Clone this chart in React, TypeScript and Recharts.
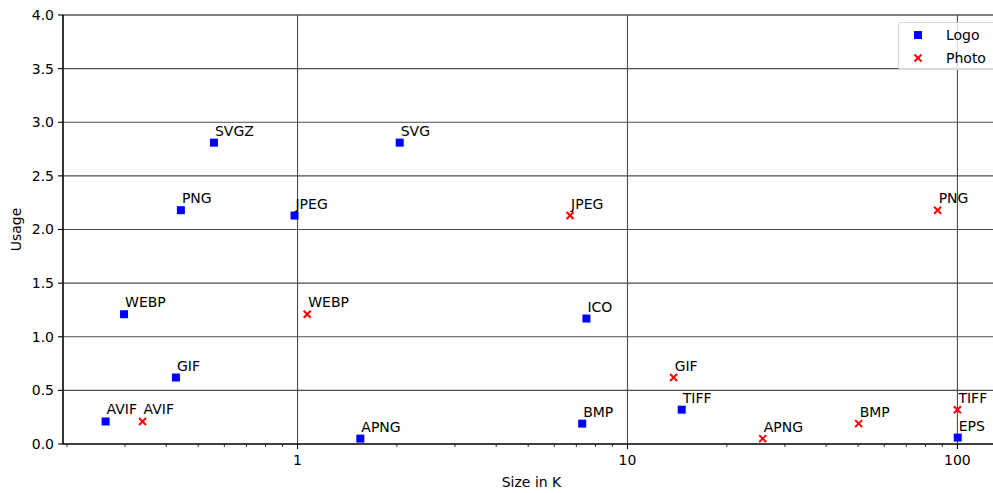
import { ScatterChart, Scatter, XAxis, YAxis, ReferenceLine, ReferenceArea } from "recharts";

// logo formats
const logoNames = ["AVIF", "WEBP", "GIF", "PNG", "SVGZ", "JPEG", "APNG", "SVG", "BMP", "ICO", "TIFF", "EPS"];
const logoSizes = [0.262, 0.298, 0.428, 0.443, 0.558, 0.979, 1.55, 2.04, 7.29, 7.51, 14.6, 100.2];
const logoUsage = [0.21, 1.21, 0.62, 2.18, 2.81, 2.13, 0.05, 2.81, 0.19, 1.17, 0.32, 0.06];

// photo formats
const photoNames = ["AVIF", "WEBP", "JPEG", "GIF", "APNG", "BMP", "PNG", "TIFF"];
const photoSizes = [0.339, 1.07, 6.7, 13.8, 25.7, 50.2, 87.1, 100];
const photoUsage = [0.21, 1.21, 2.13, 0.62, 0.05, 0.19, 2.18, 0.32];

const xMajor = [1, 10, 100];
const xMinor = [0.2, 0.3, 0.4, 0.5, 0.6, 0.7, 0.8, 0.9, 2, 3, 4, 5, 6, 7, 8, 9, 20, 30, 40, 50, 60, 70, 80, 90];
const yTicks = [0, 0.5, 1, 1.5, 2, 2.5, 3, 3.5, 4];
const yGrid = [0.5, 1, 1.5, 2, 2.5, 3, 3.5];

const X_MIN = 0.1946;
const X_MAX = 134.6;
const GRID = "#4d4d4d";
const FONT = "DejaVu Sans, sans-serif";

const logoData = logoNames.map((name, i) => ({ name, size: logoSizes[i], usage: logoUsage[i] }));
const photoData = photoNames.map((name, i) => ({ name, size: photoSizes[i], usage: photoUsage[i] }));

const pointLabel = (cx: number, cy: number, name: string) => (
  <text x={cx + 1} y={cy - 7} fontSize={14} fill="#000" fontFamily={FONT}>
    {name}
  </text>
);

const SquareShape = (props: any) => {
  const { cx, cy, payload } = props;
  return (
    <g>
      <rect x={cx - 4} y={cy - 4} width={8} height={8} fill="#0000ff" />
      {pointLabel(cx, cy, payload.name)}
    </g>
  );
};

const CrossShape = (props: any) => {
  const { cx, cy, payload } = props;
  return (
    <g>
      <line x1={cx - 3.5} y1={cy - 3.5} x2={cx + 3.5} y2={cy + 3.5} stroke="#ff0000" strokeWidth={2} />
      <line x1={cx - 3.5} y1={cy + 3.5} x2={cx + 3.5} y2={cy - 3.5} stroke="#ff0000" strokeWidth={2} />
      {pointLabel(cx, cy, payload.name)}
    </g>
  );
};

const XTick = (props: any) => {
  const { x, y, payload } = props;
  const major = xMajor.includes(payload.value);
  return (
    <g>
      <line x1={x} x2={x} y1={y} y2={y + (major ? 5 : 3)} stroke="#000" strokeWidth={major ? 1.1 : 0.8} />
      {major && (
        <text x={x} y={y + 10} dy="0.76em" textAnchor="middle" fontSize={14} fill="#000" fontFamily={FONT}>
          {payload.value}
        </text>
      )}
    </g>
  );
};

export default function App() {
  return (
    <div style={{ position: "absolute", left: 0, top: 0, width: 993, height: 493, overflow: "hidden", background: "#fff", fontFamily: FONT }}>
      <ScatterChart width={1001} height={493} margin={{ top: 15, right: 1, bottom: 0, left: 0 }}>
        <XAxis
          type="number"
          dataKey="size"
          scale="log"
          domain={[X_MIN, X_MAX]}
          allowDataOverflow
          ticks={[...xMinor, ...xMajor].sort((a, b) => a - b)}
          interval={0}
          tick={<XTick />}
          tickLine={false}
          tickSize={0}
          tickMargin={0}
          height={49}
          stroke="#000"
          axisLine={{ stroke: "#000", strokeWidth: 1.1 }}
          label={() => (
            <text x={531.5} y={482} textAnchor="middle" dominantBaseline="central" fontSize={14} fill="#000" fontFamily={FONT}>
              Size in K
            </text>
          )}
        />
        <YAxis
          type="number"
          dataKey="usage"
          domain={[0, 4]}
          ticks={yTicks}
          interval={0}
          width={63}
          tickSize={5}
          tickMargin={4}
          tickFormatter={(v: number) => v.toFixed(1)}
          tick={{ fontSize: 14, fill: "#000", fontFamily: FONT }}
          tickLine={{ stroke: "#000", strokeWidth: 1.1 }}
          axisLine={{ stroke: "#000", strokeWidth: 1.1 }}
          label={() => (
            <text transform="translate(16,229.5) rotate(-90)" textAnchor="middle" dominantBaseline="central" fontSize={14} fill="#000" fontFamily={FONT}>
              Usage
            </text>
          )}
        />
        {xMajor.map((v) => (
          <ReferenceLine key={"vx" + v} x={v} stroke={GRID} strokeWidth={1.1} />
        ))}
        {yGrid.map((v) => (
          <ReferenceLine key={"hy" + v} y={v} stroke={GRID} strokeWidth={1.1} />
        ))}
        <ReferenceArea x1={X_MIN} x2={X_MAX} y1={0} y2={4} fill="none" stroke="#000" strokeWidth={1.1} />
        <Scatter name="Logo" data={logoData} shape={SquareShape} isAnimationActive={false} />
        <Scatter name="Photo" data={photoData} shape={CrossShape} isAnimationActive={false} />
      </ScatterChart>
      <div
        style={{
          position: "absolute",
          left: 898,
          top: 22,
          width: 100,
          height: 48,
          boxSizing: "border-box",
          border: "1px solid #d6d6d6",
          borderRadius: 3,
          background: "rgba(255,255,255,0.8)",
          fontSize: 14,
          color: "#000",
        }}
      >
        <svg width={100} height={48} style={{ position: "absolute", left: -1, top: -1 }}>
          <rect x={16} y={9} width={8} height={8} fill="#0000ff" />
          <line x1={16.5} y1={32.5} x2={23.5} y2={39.5} stroke="#ff0000" strokeWidth={2} />
          <line x1={16.5} y1={39.5} x2={23.5} y2={32.5} stroke="#ff0000" strokeWidth={2} />
          <text x={48} y={13} dominantBaseline="central" fontSize={14} fill="#000" fontFamily={FONT}>
            Logo
          </text>
          <text x={48} y={36} dominantBaseline="central" fontSize={14} fill="#000" fontFamily={FONT}>
            Photo
          </text>
        </svg>
      </div>
    </div>
  );
}
